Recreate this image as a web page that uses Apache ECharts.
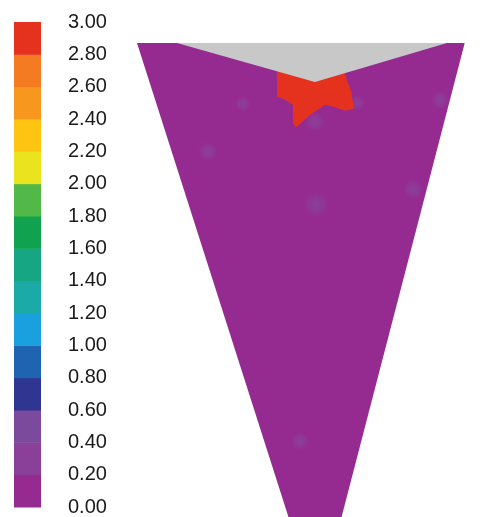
<!DOCTYPE html>
<html>
<head>
<meta charset="utf-8">
<script src="https://cdn.jsdelivr.net/npm/echarts@6/dist/echarts.min.js"></script>
<style>
  html, body { margin: 0; padding: 0; background: #ffffff; }
  #chart { width: 491px; height: 517px; }
</style>
</head>
<body>
<div id="chart"></div>
<script>
// Colour scale: 15 bands of 0.20 from 0.00 (bottom) to 3.00 (top)
const bandStep = 0.2;
const bandColors = [
  '#952B91', '#8A4099', '#7B4A9D', '#2F3692', '#1F64B0',
  '#1AA0DE', '#1CAAA6', '#17A684', '#10A24F', '#52B848',
  '#EAE41E', '#FDC511', '#F8971D', '#F47B22', '#E5321E'
];
const tickValues = [0, 0.2, 0.4, 0.6, 0.8, 1.0, 1.2, 1.4, 1.6, 1.8, 2.0, 2.2, 2.4, 2.6, 2.8, 3.0];

// Field geometry (x: across, y: depth from the top surface)
const fieldOutline = [[-1.0, 0], [0.862, 0], [0.027, 3.222]];
const fieldValue = 0.1;

// Region with no result (open notch at the top)
const voidNotch = [[-0.773, 0], [0.011, 0.222], [0.761, 0]];

// High-value zone just below the notch
const hotZone = [
  [-0.205, 0.12], [0.170, 0.12], [0.192, 0.210], [0.218, 0.278], [0.232, 0.375],
  [0.182, 0.386], [0.114, 0.362], [0.068, 0.352], [-0.017, 0.410], [-0.097, 0.482],
  [-0.114, 0.458], [-0.114, 0.352], [-0.160, 0.322], [-0.203, 0.305]
];
const hotValue = 2.9;

// Small patches in the 0.20-0.40 band: [x, y, rx, ry, value]
const lowPatches = [
  [-0.597, 0.619, 0.055, 0.055, 0.3],
  [-0.398, 0.347, 0.050, 0.044, 0.3],
  [0.017, 0.920, 0.070, 0.095, 0.3],
  [0.568, 0.835, 0.055, 0.070, 0.3],
  [-0.074, 2.267, 0.050, 0.105, 0.3],
  [0.011, 0.449, 0.115, 0.055, 0.3],
  [0.722, 0.324, 0.070, 0.050, 0.3],
  [0.250, 0.341, 0.045, 0.055, 0.3]
];

function colorOf(v) {
  const i = Math.max(0, Math.min(bandColors.length - 1, Math.floor(v / bandStep + 1e-9)));
  return bandColors[i];
}

const regions = [
  { pts: fieldOutline, fill: colorOf(fieldValue) },
  { pts: hotZone, fill: colorOf(hotValue) },
  { pts: voidNotch, fill: '#C8C8C8' }
];

const chart = echarts.init(document.getElementById('chart'), null, { renderer: 'canvas' });

chart.setOption({
  animation: false,
  backgroundColor: '#ffffff',
  grid: [
    { left: 14, top: 22, width: 27, height: 492 },
    { left: 137, top: 43, width: 352, height: 475.2 }
  ],
  xAxis: [
    { gridIndex: 0, type: 'value', min: 0, max: 1, show: false },
    { gridIndex: 1, type: 'value', min: -1, max: 1, show: false }
  ],
  yAxis: [
    {
      gridIndex: 0, type: 'value', min: 0, max: 3, interval: 0.2, position: 'right',
      axisLine: { show: false }, axisTick: { show: false }, splitLine: { show: false },
      axisLabel: {
        margin: 27, fontSize: 20, fontFamily: 'Liberation Sans, Arial, sans-serif',
        color: '#1a1a1a', padding: [0, 0, 8, 0],
        formatter: v => v.toFixed(2)
      }
    },
    { gridIndex: 1, type: 'value', min: 0, max: 2.7, inverse: true, show: false }
  ],
  series: [
    {
      // colour bar bands
      type: 'custom', xAxisIndex: 0, yAxisIndex: 0, silent: true,
      data: bandColors.map((c, i) => [i * bandStep]),
      renderItem: (params, api) => {
        const lo = api.value(0);
        const p0 = api.coord([0, lo + bandStep]);
        const p1 = api.coord([1, lo]);
        return {
          type: 'rect',
          shape: { x: p0[0], y: p0[1], width: p1[0] - p0[0], height: p1[1] - p0[1] + 0.5 },
          style: { fill: bandColors[params.dataIndex] }
        };
      }
    },
    {
      // base field, with soft low-value patches on top
      type: 'custom', xAxisIndex: 1, yAxisIndex: 1, silent: true, clip: true,
      data: [[0]],
      renderItem: (params, api) => {
        const base = regions[0];
        const children = [{
          type: 'polygon',
          shape: { points: base.pts.map(p => api.coord(p)) },
          style: { fill: base.fill }
        }];
        lowPatches.forEach(p => {
          const c = api.coord([p[0], p[1]]);
          const s = api.size([p[2], p[3]]);
          const col = colorOf(p[4]);
          children.push({
            type: 'ellipse',
            shape: { cx: c[0], cy: c[1], rx: s[0], ry: s[1] },
            style: {
              fill: new echarts.graphic.RadialGradient(0.5, 0.5, 0.5, [
                { offset: 0, color: col },
                { offset: 0.55, color: echarts.color.modifyAlpha(col, 0.6) },
                { offset: 1, color: echarts.color.modifyAlpha(col, 0) }
              ])
            }
          });
        });
        return { type: 'group', children };
      }
    },
    {
      // hot zone and the empty notch
      type: 'custom', xAxisIndex: 1, yAxisIndex: 1, silent: true, clip: true,
      data: [[1], [2]],
      renderItem: (params, api) => {
        const r = regions[api.value(0)];
        return {
          type: 'polygon',
          shape: { points: r.pts.map(p => api.coord(p)) },
          style: { fill: r.fill }
        };
      }
    }
  ]
});
</script>
</body>
</html>
